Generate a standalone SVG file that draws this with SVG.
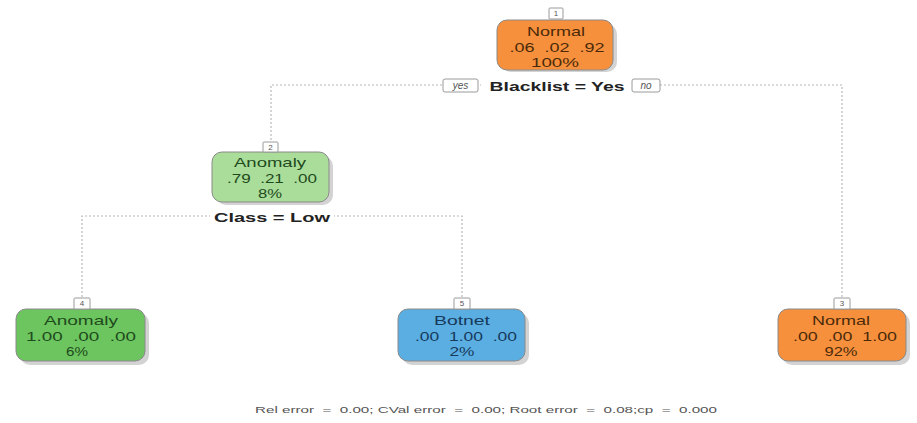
<svg xmlns="http://www.w3.org/2000/svg" width="917" height="423" viewBox="0 0 917 423">
<style>
.edge{fill:none;stroke:#b8b8b8;stroke-width:1.2;stroke-dasharray:2 2}
.shadow{fill:#c8c8c8;opacity:0.8}
.box{stroke:#8a8a8a;stroke-width:1}
.t{font-family:"Liberation Sans",Arial,sans-serif;font-size:13px;text-anchor:middle;white-space:pre}
.num{fill:#fff;stroke:#9a9a9a;stroke-width:1}
.numt{font-family:"Liberation Sans",Arial,sans-serif;font-size:8px;text-anchor:middle;fill:#555}
.split{font-family:"Liberation Sans",Arial,sans-serif;font-size:13px;font-weight:bold;text-anchor:middle;fill:#222}
.yn{font-family:"Liberation Sans",Arial,sans-serif;font-size:10px;font-style:italic;text-anchor:middle;fill:#555}
.o{fill:#4a2a0a}.g{fill:#1f4a1d}.b{fill:#173a5c}
</style>
<rect width="917" height="423" fill="#fff"/>
<g id="connectors">
<polyline class="edge" points="271,152 271,85 842,85 842,309"/>
<polyline class="edge" points="82,309 82,216 462,216 462,309"/>
</g>
<g id="split-labels">
<rect x="481" y="78" width="150" height="16" fill="#fff"/>
<text class="split" x="557" y="91" textLength="135" lengthAdjust="spacingAndGlyphs">Blacklist = Yes</text>
<rect class="num" x="443" y="79" width="35" height="13" rx="2"/>
<text class="yn" x="460.5" y="89">yes</text>
<rect class="num" x="632" y="79" width="28" height="13" rx="2"/>
<text class="yn" x="646" y="89">no</text>
<rect x="210" y="208" width="124" height="16" fill="#fff"/>
<text class="split" x="272" y="222" textLength="116" lengthAdjust="spacingAndGlyphs">Class = Low</text>
</g>
<g id="node1">
<rect class="shadow" x="501" y="24" width="116" height="48" rx="10"/>
<rect class="box" x="497" y="20" width="116" height="50" rx="10" fill="#F7903C"/>
<rect class="num" x="549" y="8" width="14" height="11" rx="1"/>
<text class="numt" x="556" y="16">1</text>
<text class="t o" x="556" y="36" textLength="58" lengthAdjust="spacingAndGlyphs">Normal</text>
<text class="t o" x="557" y="52" textLength="95" lengthAdjust="spacingAndGlyphs">.06  .02  .92</text>
<text class="t o" x="555" y="67" textLength="48" lengthAdjust="spacingAndGlyphs">100%</text>
</g>
<g id="node2">
<rect class="shadow" x="216" y="156" width="117" height="49" rx="10"/>
<rect class="box" x="212" y="152" width="117" height="50" rx="10" fill="#A9DD99"/>
<rect class="num" x="263" y="142" width="15" height="10" rx="1"/>
<text class="numt" x="270.5" y="150">2</text>
<text class="t g" x="270" y="167" textLength="72" lengthAdjust="spacingAndGlyphs">Anomaly</text>
<text class="t g" x="272" y="183" textLength="90" lengthAdjust="spacingAndGlyphs">.79  .21  .00</text>
<text class="t g" x="270" y="198" textLength="24" lengthAdjust="spacingAndGlyphs">8%</text>
</g>
<g id="node4">
<rect class="shadow" x="20" y="313" width="129" height="52" rx="10"/>
<rect class="box" x="16" y="309" width="129" height="52" rx="10" fill="#6CC55E"/>
<rect class="num" x="74" y="298" width="16" height="11" rx="1"/>
<text class="numt" x="82" y="306">4</text>
<text class="t g" x="81" y="325" textLength="74" lengthAdjust="spacingAndGlyphs">Anomaly</text>
<text class="t g" x="81" y="341" textLength="110" lengthAdjust="spacingAndGlyphs">1.00  .00  .00</text>
<text class="t g" x="77" y="356" textLength="22" lengthAdjust="spacingAndGlyphs">6%</text>
</g>
<g id="node5">
<rect class="shadow" x="402" y="313" width="127" height="52" rx="10"/>
<rect class="box" x="398" y="309" width="127" height="52" rx="10" fill="#5BAEE1"/>
<rect class="num" x="454" y="298" width="16" height="11" rx="1"/>
<text class="numt" x="462" y="306">5</text>
<text class="t b" x="462" y="325" textLength="56" lengthAdjust="spacingAndGlyphs">Botnet</text>
<text class="t b" x="466" y="341" textLength="102" lengthAdjust="spacingAndGlyphs">.00  1.00  .00</text>
<text class="t b" x="462" y="356" textLength="25" lengthAdjust="spacingAndGlyphs">2%</text>
</g>
<g id="node3">
<rect class="shadow" x="782" y="313" width="128" height="52" rx="10"/>
<rect class="box" x="778" y="309" width="128" height="52" rx="10" fill="#F7903C"/>
<rect class="num" x="834" y="298" width="16" height="11" rx="1"/>
<text class="numt" x="842" y="306">3</text>
<text class="t o" x="841" y="325" textLength="58" lengthAdjust="spacingAndGlyphs">Normal</text>
<text class="t o" x="845" y="341" textLength="104" lengthAdjust="spacingAndGlyphs">.00  .00  1.00</text>
<text class="t o" x="841" y="356" textLength="33" lengthAdjust="spacingAndGlyphs">92%</text>
</g>
<text x="486" y="413" font-family="'Liberation Sans',Arial,sans-serif" font-size="9" fill="#555" text-anchor="middle" textLength="462" lengthAdjust="spacingAndGlyphs" style="white-space:pre">Rel error  =  0.00; CVal error  =  0.00; Root error  =  0.08;cp  =  0.000</text>
</svg>
